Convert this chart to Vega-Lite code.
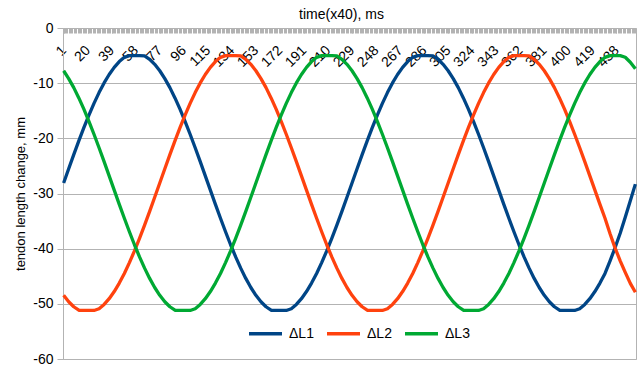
{
 "$schema": "https://vega.github.io/schema/vega-lite/v6.json",
 "width": 573, "height": 331,
 "autosize": {"type": "none"},
 "padding": {"left": 63, "top": 28, "right": 5, "bottom": 12},
 "background": "white",
 "title": {"text": "time(x40), ms", "font": "Liberation Sans", "fontSize": 14, "fontWeight": "normal", "color": "black", "anchor": "middle", "frame": "group", "offset": -1, "dx": -8},
 "config": {"view": {"stroke": "#b3b3b3", "strokeWidth": 1}, "font": "Liberation Sans"},
 "data": {"values": [
{"t":1,"L1":-28.1,"L2":-48.45,"L3":-7.75},
{"t":5,"L1":-25.51,"L2":-49.62,"L3":-9.17},
{"t":9,"L1":-22.96,"L2":-50.53,"L3":-10.81},
{"t":13,"L1":-20.47,"L2":-51.16,"L3":-12.67},
{"t":17,"L1":-18.07,"L2":-51.2,"L3":-14.71},
{"t":21,"L1":-15.79,"L2":-51.2,"L3":-16.91},
{"t":25,"L1":-13.67,"L2":-51.2,"L3":-19.26},
{"t":29,"L1":-11.71,"L2":-50.88,"L3":-21.71},
{"t":33,"L1":-9.96,"L2":-50.11,"L3":-24.23},
{"t":37,"L1":-8.43,"L2":-49.07,"L3":-26.81},
{"t":41,"L1":-7.13,"L2":-47.77,"L3":-29.39},
{"t":45,"L1":-6.09,"L2":-46.24,"L3":-31.97},
{"t":49,"L1":-5.32,"L2":-44.49,"L3":-34.49},
{"t":53,"L1":-5,"L2":-42.53,"L3":-36.94},
{"t":57,"L1":-5,"L2":-40.41,"L3":-39.29},
{"t":61,"L1":-5,"L2":-38.13,"L3":-41.49},
{"t":65,"L1":-5.04,"L2":-35.73,"L3":-43.53},
{"t":69,"L1":-5.67,"L2":-33.24,"L3":-45.39},
{"t":73,"L1":-6.58,"L2":-30.69,"L3":-47.04},
{"t":77,"L1":-7.75,"L2":-28.1,"L3":-48.45},
{"t":81,"L1":-9.17,"L2":-25.51,"L3":-49.62},
{"t":85,"L1":-10.81,"L2":-22.96,"L3":-50.53},
{"t":89,"L1":-12.67,"L2":-20.47,"L3":-51.16},
{"t":93,"L1":-14.71,"L2":-18.07,"L3":-51.2},
{"t":97,"L1":-16.91,"L2":-15.79,"L3":-51.2},
{"t":101,"L1":-19.26,"L2":-13.67,"L3":-51.2},
{"t":105,"L1":-21.71,"L2":-11.71,"L3":-50.88},
{"t":109,"L1":-24.23,"L2":-9.96,"L3":-50.11},
{"t":113,"L1":-26.81,"L2":-8.43,"L3":-49.07},
{"t":117,"L1":-29.39,"L2":-7.13,"L3":-47.77},
{"t":121,"L1":-31.97,"L2":-6.09,"L3":-46.24},
{"t":125,"L1":-34.49,"L2":-5.32,"L3":-44.49},
{"t":129,"L1":-36.94,"L2":-5,"L3":-42.53},
{"t":133,"L1":-39.29,"L2":-5,"L3":-40.41},
{"t":137,"L1":-41.49,"L2":-5,"L3":-38.13},
{"t":141,"L1":-43.53,"L2":-5.04,"L3":-35.73},
{"t":145,"L1":-45.39,"L2":-5.67,"L3":-33.24},
{"t":149,"L1":-47.04,"L2":-6.58,"L3":-30.69},
{"t":153,"L1":-48.45,"L2":-7.75,"L3":-28.1},
{"t":157,"L1":-49.62,"L2":-9.17,"L3":-25.51},
{"t":161,"L1":-50.53,"L2":-10.81,"L3":-22.96},
{"t":165,"L1":-51.16,"L2":-12.67,"L3":-20.47},
{"t":169,"L1":-51.2,"L2":-14.71,"L3":-18.07},
{"t":173,"L1":-51.2,"L2":-16.91,"L3":-15.79},
{"t":177,"L1":-51.2,"L2":-19.26,"L3":-13.67},
{"t":181,"L1":-50.88,"L2":-21.71,"L3":-11.71},
{"t":185,"L1":-50.11,"L2":-24.23,"L3":-9.96},
{"t":189,"L1":-49.07,"L2":-26.81,"L3":-8.43},
{"t":193,"L1":-47.77,"L2":-29.39,"L3":-7.13},
{"t":197,"L1":-46.24,"L2":-31.97,"L3":-6.09},
{"t":201,"L1":-44.49,"L2":-34.49,"L3":-5.32},
{"t":205,"L1":-42.53,"L2":-36.94,"L3":-5},
{"t":209,"L1":-40.41,"L2":-39.29,"L3":-5},
{"t":213,"L1":-38.13,"L2":-41.49,"L3":-5},
{"t":217,"L1":-35.73,"L2":-43.53,"L3":-5.04},
{"t":221,"L1":-33.24,"L2":-45.39,"L3":-5.67},
{"t":225,"L1":-30.69,"L2":-47.04,"L3":-6.58},
{"t":229,"L1":-28.1,"L2":-48.45,"L3":-7.75},
{"t":233,"L1":-25.51,"L2":-49.62,"L3":-9.17},
{"t":237,"L1":-22.96,"L2":-50.53,"L3":-10.81},
{"t":241,"L1":-20.47,"L2":-51.16,"L3":-12.67},
{"t":245,"L1":-18.07,"L2":-51.2,"L3":-14.71},
{"t":249,"L1":-15.79,"L2":-51.2,"L3":-16.91},
{"t":253,"L1":-13.67,"L2":-51.2,"L3":-19.26},
{"t":257,"L1":-11.71,"L2":-50.88,"L3":-21.71},
{"t":261,"L1":-9.96,"L2":-50.11,"L3":-24.23},
{"t":265,"L1":-8.43,"L2":-49.07,"L3":-26.81},
{"t":269,"L1":-7.13,"L2":-47.77,"L3":-29.39},
{"t":273,"L1":-6.09,"L2":-46.24,"L3":-31.97},
{"t":277,"L1":-5.32,"L2":-44.49,"L3":-34.49},
{"t":281,"L1":-5,"L2":-42.53,"L3":-36.94},
{"t":285,"L1":-5,"L2":-40.41,"L3":-39.29},
{"t":289,"L1":-5,"L2":-38.13,"L3":-41.49},
{"t":293,"L1":-5.04,"L2":-35.73,"L3":-43.53},
{"t":297,"L1":-5.67,"L2":-33.24,"L3":-45.39},
{"t":301,"L1":-6.58,"L2":-30.69,"L3":-47.04},
{"t":305,"L1":-7.75,"L2":-28.1,"L3":-48.45},
{"t":309,"L1":-9.17,"L2":-25.51,"L3":-49.62},
{"t":313,"L1":-10.81,"L2":-22.96,"L3":-50.53},
{"t":317,"L1":-12.67,"L2":-20.47,"L3":-51.16},
{"t":321,"L1":-14.71,"L2":-18.07,"L3":-51.2},
{"t":325,"L1":-16.91,"L2":-15.79,"L3":-51.2},
{"t":329,"L1":-19.26,"L2":-13.67,"L3":-51.2},
{"t":333,"L1":-21.71,"L2":-11.71,"L3":-50.88},
{"t":337,"L1":-24.23,"L2":-9.96,"L3":-50.11},
{"t":341,"L1":-26.81,"L2":-8.43,"L3":-49.07},
{"t":345,"L1":-29.39,"L2":-7.13,"L3":-47.77},
{"t":349,"L1":-31.97,"L2":-6.09,"L3":-46.24},
{"t":353,"L1":-34.49,"L2":-5.32,"L3":-44.49},
{"t":357,"L1":-36.94,"L2":-5,"L3":-42.53},
{"t":361,"L1":-39.29,"L2":-5,"L3":-40.41},
{"t":365,"L1":-41.49,"L2":-5,"L3":-38.13},
{"t":369,"L1":-43.53,"L2":-5.04,"L3":-35.73},
{"t":373,"L1":-45.39,"L2":-5.67,"L3":-33.24},
{"t":377,"L1":-47.04,"L2":-6.58,"L3":-30.69},
{"t":381,"L1":-48.45,"L2":-7.75,"L3":-28.1},
{"t":385,"L1":-49.62,"L2":-9.17,"L3":-25.51},
{"t":389,"L1":-50.53,"L2":-10.81,"L3":-22.96},
{"t":393,"L1":-51.16,"L2":-12.67,"L3":-20.47},
{"t":397,"L1":-51.2,"L2":-14.71,"L3":-18.07},
{"t":401,"L1":-51.2,"L2":-16.91,"L3":-15.79},
{"t":405,"L1":-51.2,"L2":-19.26,"L3":-13.67},
{"t":409,"L1":-50.88,"L2":-21.71,"L3":-11.71},
{"t":413,"L1":-50.11,"L2":-24.23,"L3":-9.96},
{"t":417,"L1":-49.07,"L2":-26.81,"L3":-8.43},
{"t":421,"L1":-47.77,"L2":-29.39,"L3":-7.13},
{"t":425,"L1":-46.24,"L2":-31.97,"L3":-6.09},
{"t":429,"L1":-44.49,"L2":-34.49,"L3":-5.32},
{"t":433,"L1":-42.2,"L2":-37.3,"L3":-5},
{"t":437,"L1":-39.8,"L2":-39.9,"L3":-5},
{"t":441,"L1":-37.2,"L2":-42.2,"L3":-5},
{"t":445,"L1":-34.3,"L2":-44.3,"L3":-5.3},
{"t":449,"L1":-31.3,"L2":-46.3,"L3":-6.2},
{"t":453,"L1":-28.3,"L2":-47.9,"L3":-7.4}
 ]},
 "transform": [{"fold": ["L1", "L2", "L3"], "as": ["series", "value"]}],
 "layer": [
  {"mark": {"type": "line", "strokeWidth": 3.3, "strokeJoin": "round"},
   "encoding": {
    "x": {"field": "t", "type": "quantitative",
          "scale": {"domain": [0.5, 453.5], "nice": false, "zero": false},
          "axis": {"orient": "bottom", "offset": -331,
                   "values": [1,20,39,58,77,96,115,134,153,172,191,210,229,248,267,286,305,324,343,362,381,400,419,438],
                   "labelAngle": -45, "labelAlign": "right", "labelBaseline": "middle", "labelPadding": 15,
                   "ticks": true, "tickSize": 5, "tickColor": "#b3b3b3", "domain": false, "grid": false, "title": null,
                   "labelFontSize": 14, "labelColor": "black", "labelFont": "Liberation Sans",
                   "labelOverlap": false, "labelFlush": false, "labelBound": false}},
    "y": {"field": "value", "type": "quantitative",
          "scale": {"domain": [-60, 0], "nice": false, "zero": false},
          "axis": {"values": [-60,-50,-40,-30,-20,-10,0], "title": "tendon length change, mm",
                   "titleFont": "Liberation Sans", "titleFontSize": 13, "titleFontWeight": "normal", "titleColor": "black", "titlePadding": 5,
                   "labelFont": "Liberation Sans", "labelFontSize": 14, "labelColor": "black", "labelPadding": 4,
                   "tickSize": 6, "tickColor": "#b3b3b3", "domainColor": "#b3b3b3", "gridColor": "#b3b3b3",
                   "labelExpr": "datum.value < 0 ? '-' + abs(datum.value) : '' + datum.value"}},
    "color": {"field": "series", "type": "nominal",
              "scale": {"domain": ["L1", "L2", "L3"], "range": ["#004586", "#ff420e", "#00a933"]},
              "legend": {"orient": "none", "direction": "horizontal", "legendX": 184, "legendY": 287, "title": null,
                         "symbolType": "stroke", "symbolSize": 1089, "symbolStrokeWidth": 3.3,
                         "labelFont": "Liberation Sans", "labelFontSize": 14, "labelColor": "black", "labelOffset": 5,
                         "columnPadding": 6, "labelExpr": "'Δ' + datum.label"}}
   }},
  {"mark": {"type": "point", "opacity": 0},
   "encoding": {
    "x": {"field": "t", "type": "quantitative",
          "axis": {"orient": "bottom", "offset": -331, "tickCount": 500, "labels": false, "domain": false, "grid": false,
                   "title": null, "ticks": true, "tickSize": 5, "tickColor": "#b3b3b3", "tickWidth": 1}}
   }}
 ],
 "resolve": {"axis": {"x": "independent"}}
}
